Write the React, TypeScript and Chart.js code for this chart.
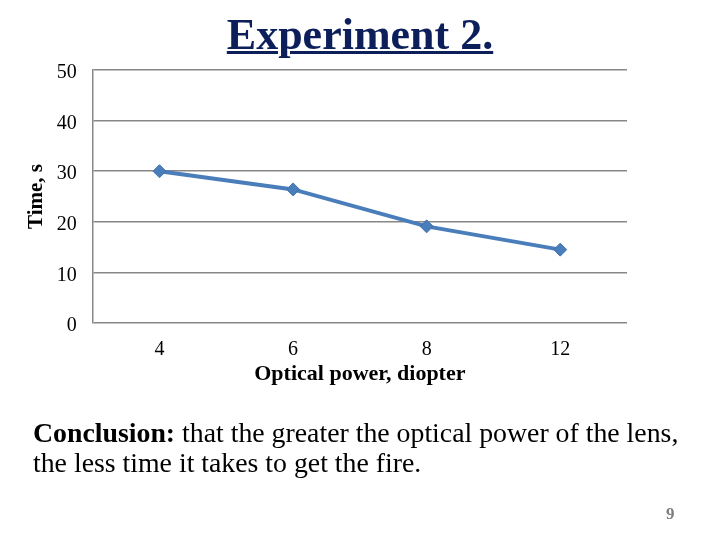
import React, { useEffect, useRef } from "react";
import { Chart, registerables } from "chart.js";

Chart.register(...registerables);

const categories = ["4", "6", "8", "12"];
const timeValues = [30, 26.4, 19.1, 14.5];
const yMin = 0;
const yMax = 50;
const yStep = 10;

const GRID = "#878787";
const LINE = "#4a7ebb";
const SERIF = "'Liberation Serif', 'Times New Roman', serif";

export default function App() {
  const ref = useRef<HTMLCanvasElement>(null);

  useEffect(() => {
    if (!ref.current) return;
    const chart = new Chart(ref.current, {
      type: "line",
      data: {
        labels: categories,
        datasets: [
          {
            data: timeValues,
            borderColor: LINE,
            borderWidth: 4,
            backgroundColor: LINE,
            pointStyle: "rectRot",
            pointRadius: 6.5,
            pointBackgroundColor: LINE,
            pointBorderColor: "#3f72ae",
            pointBorderWidth: 1,
            tension: 0,
            fill: false,
          },
        ],
      },
      options: {
        animation: false,
        responsive: false,
        devicePixelRatio: 1,
        layout: { padding: { left: 20, top: 70, right: 93, bottom: 152 } },
        plugins: {
          legend: { display: false },
          tooltip: { enabled: false },
          title: { display: false },
        },
        scales: {
          x: {
            offset: true,
            grid: { display: false, drawTicks: false },
            border: { display: false },
            ticks: {
              color: "#000",
              padding: 15,
              font: { family: SERIF, size: 20 },
            },
            title: {
              display: true,
              text: "Optical power, diopter",
              color: "#000",
              font: { family: SERIF, size: 22, weight: "bold" },
              padding: { top: 0, bottom: 0 },
            },
            afterFit: (s: any) => {
              s.height = 65;
            },
          },
          y: {
            min: yMin,
            max: yMax,
            ticks: {
              stepSize: yStep,
              color: "#000",
              padding: 16,
              labelOffset: 3,
              font: { family: SERIF, size: 20 },
            },
            grid: { color: GRID, lineWidth: 1.5, drawTicks: false },
            border: { display: true, color: GRID, width: 1.5 },
            title: {
              display: true,
              text: "Time, s",
              color: "#000",
              font: { family: SERIF, size: 21, weight: "bold" },
              padding: { top: 4, bottom: 0 },
            },
            afterFit: (s: any) => {
              s.width = 72.7;
            },
          },
        },
      },
    });
    return () => chart.destroy();
  }, []);

  return (
    <div
      style={{
        position: "absolute",
        left: 0,
        top: 0,
        width: 720,
        height: 540,
        background: "#fff",
        fontFamily: SERIF,
        overflow: "hidden",
      }}
    >
      <canvas ref={ref} width={720} height={540} style={{ position: "absolute", left: 0, top: 0, width: 720, height: 540 }} />
      <div
        style={{
          position: "absolute",
          left: 0,
          width: 720,
          top: 8,
          textAlign: "center",
          fontSize: 44,
          fontWeight: "bold",
          color: "#0c1f5b",
          textDecoration: "underline",
          textDecorationThickness: 3,
          lineHeight: "54px",
        }}
      >
        Experiment 2.
      </div>
      <div
        style={{
          position: "absolute",
          left: 33,
          top: 418,
          fontSize: 27.8,
          lineHeight: "30px",
          color: "#000",
          whiteSpace: "nowrap",
        }}
      >
        <b>Conclusion:</b> that the greater the optical power of the lens,
        <br />
        the less time it takes to get the fire.
      </div>
      <div
        style={{
          position: "absolute",
          left: 666,
          top: 504,
          fontSize: 17,
          fontWeight: "bold",
          color: "#7f7f7f",
        }}
      >
        9
      </div>
    </div>
  );
}
